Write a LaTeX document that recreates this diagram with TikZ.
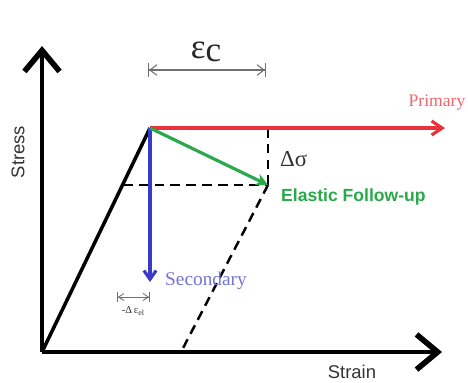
\documentclass[tikz,border=0pt]{standalone}
\usepackage{fontspec}
\setmainfont{Liberation Serif}
\setsansfont{Liberation Sans}
\usepackage{tikz}
\usetikzlibrary{arrows.meta, positioning, calc}
\usepackage{xcolor}
\definecolor{PrimRed}{HTML}{E8323C}
\definecolor{FollowGreen}{HTML}{2AA84A}
\definecolor{SecBlue}{HTML}{3A3AC8}
\definecolor{DimGray}{HTML}{707070}

\begin{document}
\begin{tikzpicture}[
    x=0.02cm, y=-0.02cm,
    axis/.style={line width=2pt, -{Straight Barb[length=12pt, width=20pt, line width=3.2pt]}},
    load/.style={line width=2pt},
    path/.style={line width=1.8pt},
    guide/.style={line width=1.4pt, dash pattern=on 5.5pt off 3.5pt},
    dim/.style={DimGray, line width=0.6pt,
        {Bar[width=8pt]Straight Barb[length=4pt, width=6pt]}-{Straight Barb[length=4pt, width=6pt]Bar[width=8pt]}},
    smalldim/.style={DimGray, line width=0.5pt,
        {Bar[width=6pt]Straight Barb[length=3pt, width=4pt]}-{Straight Barb[length=3pt, width=4pt]Bar[width=6pt]}},
    lbl/.style={font=\sffamily\fontsize{10.5}{12}\selectfont, text=black!80}
]
\useasboundingbox (0,0) rectangle (468,383);

% =============================================
% AXES
% =============================================
\coordinate (origin) at (42,352);
\coordinate (ytop) at (42,46);
\coordinate (xend) at (442,352);
\draw[axis] (origin) -- (ytop);
\draw[axis] (origin) -- (xend);
\node[lbl, rotate=90] (stress) at (18,152) {Stress};
\node[lbl] (strain) at (352,372) {Strain};

% =============================================
% LOADING AND RESPONSE PATHS
% =============================================
\coordinate (peak) at (150,128);
\coordinate (follow) at (268,185);
\coordinate (yield) at (123,185);
\coordinate (unload) at (181,352);
\coordinate (prim) at (445,128);
\coordinate (sec) at (150,282);
\coordinate (top) at (268,128);

\draw[load] (origin) -- (peak);
\draw[guide] (yield) -- (follow);
\draw[guide] (top) -- (follow);
\draw[guide] (follow) -- (unload);

\draw[path, PrimRed, -{Straight Barb[length=6pt, width=8pt]}] (peak) -- (prim);
\draw[path, SecBlue, -{Straight Barb[length=5pt, width=7pt]}] (peak) -- (sec);
\draw[path, FollowGreen, -{Stealth[length=7pt, width=7pt]}] (peak) -- (follow);

\node[font=\fontsize{10}{12}\selectfont, text=PrimRed!75] (primary) at (437,103) {Primary};
\node[font=\fontsize{11}{12}\selectfont, text=SecBlue!70, anchor=west] (secondary) at (159,281) {Secondary};
\node[font=\sffamily\bfseries\fontsize{10}{12}\selectfont, text=FollowGreen, anchor=west] (elastic) at (275,197) {Elastic Follow-up};
\node[font=\fontsize{13}{14}\selectfont, text=black!80, anchor=west] (dsig) at (274,159) {Δσ};

% =============================================
% DIMENSIONS
% =============================================
\coordinate (ecl) at (148,70);
\coordinate (ecr) at (266,70);
\draw[dim] (ecl) -- (ecr);
\node[font=\fontsize{20}{22}\selectfont, text=black!85] (epsc) at (206,52) {ε\raisebox{-2pt}{c}};

\coordinate (del) at (117,297);
\coordinate (der) at (150,297);
\draw[smalldim] (del) -- (der);
\node[font=\fontsize{6}{7}\selectfont, text=black!80] (deps) at (133,311) {-Δ\,ε\raisebox{-1pt}{\fontsize{4.5}{5}\selectfont el}};

\end{tikzpicture}
\end{document}
